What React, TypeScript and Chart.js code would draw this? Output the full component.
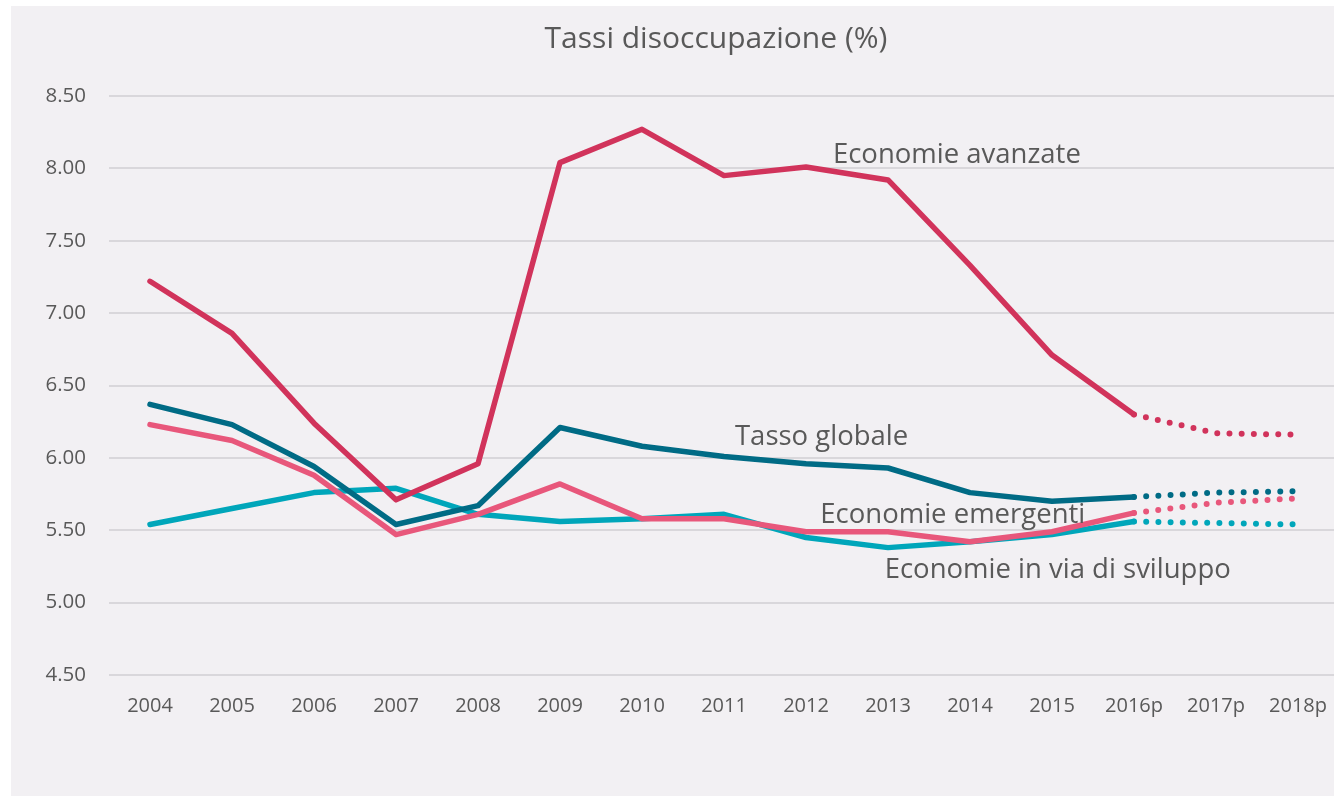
import React, { useEffect, useRef } from "react";
import { Chart, registerables } from "chart.js";

Chart.register(...registerables);

// ---- Data ----
const years = ["2004", "2005", "2006", "2007", "2008", "2009", "2010", "2011", "2012", "2013", "2014", "2015", "2016p", "2017p", "2018p"];
const avanzate = [7.22, 6.86, 6.24, 5.71, 5.96, 8.04, 8.27, 7.95, 8.01, 7.92, 7.33, 6.71, 6.30, 6.17, 6.16];
const globale = [6.37, 6.23, 5.94, 5.54, 5.67, 6.21, 6.08, 6.01, 5.96, 5.93, 5.76, 5.70, 5.73, 5.76, 5.77];
const emergenti = [6.23, 6.12, 5.88, 5.47, 5.61, 5.82, 5.58, 5.58, 5.49, 5.49, 5.42, 5.49, 5.62, 5.69, 5.72];
const sviluppo = [5.54, 5.65, 5.76, 5.79, 5.61, 5.56, 5.58, 5.61, 5.45, 5.38, 5.42, 5.47, 5.56, 5.55, 5.54];
const forecastStartIndex = 12; // 2016p onwards is a projection (dotted)
const seriesNames = ["Economie avanzate", "Tasso globale", "Economie emergenti", "Economie in via di sviluppo"];
const titleText = "Tassi disoccupazione (%)";
const yMin = 4.5;
const yMax = 8.5;
const yStep = 0.5;

// ---- Styling / layout ----
const colors = ["#d1335b", "#006b85", "#e8577b", "#00a6ba"];
// label anchors in data space: [category index, value]
const labelAnchors: [number, number][] = [
  [9.84, 8.037],
  [8.19, 6.089],
  [9.79, 5.55],
  [11.07, 5.17],
];
const TEXT = "#595959";
const BG = "#f2f0f3";
const FONT = "'Open Sans', 'Noto Sans', sans-serif";

const labelPlugin = {
  id: "seriesLabels",
  afterDatasetsDraw(chart: any) {
    const { ctx, scales } = chart;
    const xs = scales.x;
    const ys = scales.y;
    ctx.save();
    ctx.fillStyle = TEXT;
    ctx.textAlign = "center";
    ctx.textBaseline = "alphabetic";
    ctx.font = `30px ${FONT}`;
    ctx.fillText(titleText, 705, 42);
    ctx.font = `27.5px ${FONT}`;
    seriesNames.forEach((name, i) => {
      const [ix, v] = labelAnchors[i];
      ctx.fillText(name, xs.getPixelForValue(ix), ys.getPixelForValue(v));
    });
    ctx.restore();
  },
};

export default function App() {
  const ref = useRef<HTMLCanvasElement | null>(null);

  useEffect(() => {
    const canvas = ref.current;
    if (!canvas) return;
    const seriesValues = [avanzate, globale, emergenti, sviluppo];
    const chart = new Chart(canvas, {
      type: "line",
      data: {
        labels: years,
        datasets: seriesValues.map((vals, i) => ({
          label: seriesNames[i],
          data: vals,
          borderColor: colors[i],
          backgroundColor: colors[i],
          borderWidth: 5.5,
          pointRadius: 0,
          pointHoverRadius: 0,
          fill: false,
          tension: 0,
          borderCapStyle: "round" as const,
          borderJoinStyle: "round" as const,
          segment: {
            borderDash: (c: any) => (c.p0DataIndex >= forecastStartIndex ? [0, 12.2] : undefined),
            borderWidth: (c: any) => (c.p0DataIndex >= forecastStartIndex ? 6 : undefined),
          },
        })),
      },
      options: {
        responsive: false,
        animation: false,
        devicePixelRatio: 1,
        layout: { padding: { top: 90, right: 12, bottom: 61, left: 0 } },
        plugins: {
          legend: { display: false },
          title: { display: false },
          tooltip: { enabled: false },
        },
        scales: {
          x: {
            type: "category",
            offset: true,
            grid: { display: false, drawTicks: false },
            border: { display: false },
            ticks: {
              color: TEXT,
              font: { family: FONT, size: 20 },
              padding: 19,
              maxRotation: 0,
              autoSkip: false,
            },
            afterFit: (s: any) => {
              s.height = 60;
            },
          },
          y: {
            min: yMin,
            max: yMax,
            grid: { color: "#d9d7db", lineWidth: 2, drawTicks: false },
            border: { display: false },
            ticks: {
              stepSize: yStep,
              color: TEXT,
              font: { family: FONT, size: 20.5 },
              padding: 23,
              callback: (v: any) => Number(v).toFixed(2),
            },
            afterFit: (s: any) => {
              s.width = 98;
            },
          },
        },
      },
      plugins: [labelPlugin],
    });
    return () => chart.destroy();
  }, []);

  return (
    <div
      style={{
        position: "fixed",
        left: 11,
        top: 6,
        width: 1323,
        height: 790,
        overflow: "hidden",
        background: BG,
      }}
    >
      <canvas ref={ref} width={1340} height={790} style={{ display: "block", width: 1340, height: 790 }} />
    </div>
  );
}
